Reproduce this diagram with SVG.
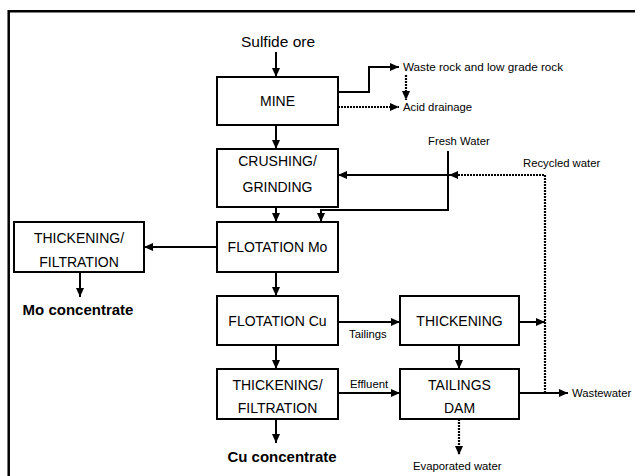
<svg xmlns="http://www.w3.org/2000/svg" width="635" height="476" viewBox="0 0 635 476">
<defs>
<marker id="ah" markerUnits="userSpaceOnUse" markerWidth="9" markerHeight="8" refX="9" refY="4" orient="auto">
<path d="M0,0 L9,4 L0,8 z" fill="#000" stroke="none"/>
</marker>
</defs>
<style>
.box{fill:#fff;stroke:#000;stroke-width:2}
.ln{fill:none;stroke:#000;stroke-width:2}
.dot{fill:none;stroke:#000;stroke-width:2.2;stroke-dasharray:2 1}
.arr{marker-end:url(#ah)}
.bt{font-family:"Liberation Sans",Arial,sans-serif;font-size:14px;text-anchor:middle;fill:#000}
.sm{font-family:"Liberation Sans",Arial,sans-serif;font-size:11.3px;fill:#000}
.bold{font-family:"Liberation Sans",Arial,sans-serif;font-size:15px;font-weight:bold;text-anchor:middle;fill:#000}
</style>
<rect width="635" height="476" fill="#fff"/>
<path d="M8.7,476 V11.3 H635" fill="none" stroke="#000" stroke-width="2.5"/>
<g id="connectors">
<path class="ln arr" d="M276,52 V77"/>
<path class="ln arr" d="M276,125 V149"/>
<path class="ln arr" d="M338,92 H369 V67 H399"/>
<path class="dot arr" d="M406,75 V100"/>
<path class="dot arr" d="M338,107 H399"/>
<path class="ln arr" d="M448,151 V210 H321 V222"/>
<path class="ln arr" d="M448,175 H338"/>
<path class="dot arr" d="M545,393 V175 H449"/>
<path class="ln arr" d="M276,207 V222"/>
<path class="ln arr" d="M217,247 H144"/>
<path class="ln arr" d="M80,272 V297"/>
<path class="ln arr" d="M276,272 V296"/>
<path class="ln arr" d="M338,322 H400"/>
<path class="ln arr" d="M519,322 H545"/>
<path class="ln arr" d="M459,345 V369"/>
<path class="ln arr" d="M276,345 V369"/>
<path class="ln arr" d="M338,393 H400"/>
<path class="ln arr" d="M519,393 H568"/>
<path class="ln arr" d="M276,419 V443"/>
<path class="dot arr" d="M459,419 V455"/>
</g>
<g id="mine"><rect class="box" x="217" y="77" width="121" height="48"/><text class="bt" x="277.5" y="106">MINE</text></g>
<g id="crushing"><rect class="box" x="217" y="149" width="121" height="58"/><text class="bt" x="277.5" y="166">CRUSHING/</text><text class="bt" x="277.5" y="192">GRINDING</text></g>
<g id="flotation-mo"><rect class="box" x="217" y="222" width="121" height="50"/><text class="bt" x="277.5" y="252">FLOTATION Mo</text></g>
<g id="thickening-mo"><rect class="box" x="14" y="222" width="130" height="50"/><text class="bt" x="79" y="243">THICKENING/</text><text class="bt" x="79" y="267">FILTRATION</text></g>
<g id="flotation-cu"><rect class="box" x="217" y="296" width="121" height="49"/><text class="bt" x="277.5" y="325.5">FLOTATION Cu</text></g>
<g id="thickening"><rect class="box" x="400" y="296" width="119" height="49"/><text class="bt" x="459.5" y="325.5">THICKENING</text></g>
<g id="thickening-cu"><rect class="box" x="217" y="369" width="121" height="50"/><text class="bt" x="277.5" y="390">THICKENING/</text><text class="bt" x="277.5" y="413">FILTRATION</text></g>
<g id="tailings-dam"><rect class="box" x="400" y="369" width="119" height="50"/><text class="bt" x="459.5" y="390">TAILINGS</text><text class="bt" x="459.5" y="413">DAM</text></g>
<g id="labels">
<text class="bt" x="278" y="47" style="font-size:15.5px">Sulfide ore</text>
<text class="sm" x="403" y="71" style="font-size:11.7px">Waste rock and low grade rock</text>
<text class="sm" x="403" y="111">Acid drainage</text>
<text class="sm" x="428" y="145">Fresh Water</text>
<text class="sm" x="523" y="167">Recycled water</text>
<text class="sm" x="349" y="338">Tailings</text>
<text class="sm" x="350" y="388">Effluent</text>
<text class="sm" x="572" y="397">Wastewater</text>
<text class="sm" x="413" y="470">Evaporated water</text>
<text class="bold" x="78" y="315">Mo concentrate</text>
<text class="bold" x="282" y="462">Cu concentrate</text>
</g>
</svg>
